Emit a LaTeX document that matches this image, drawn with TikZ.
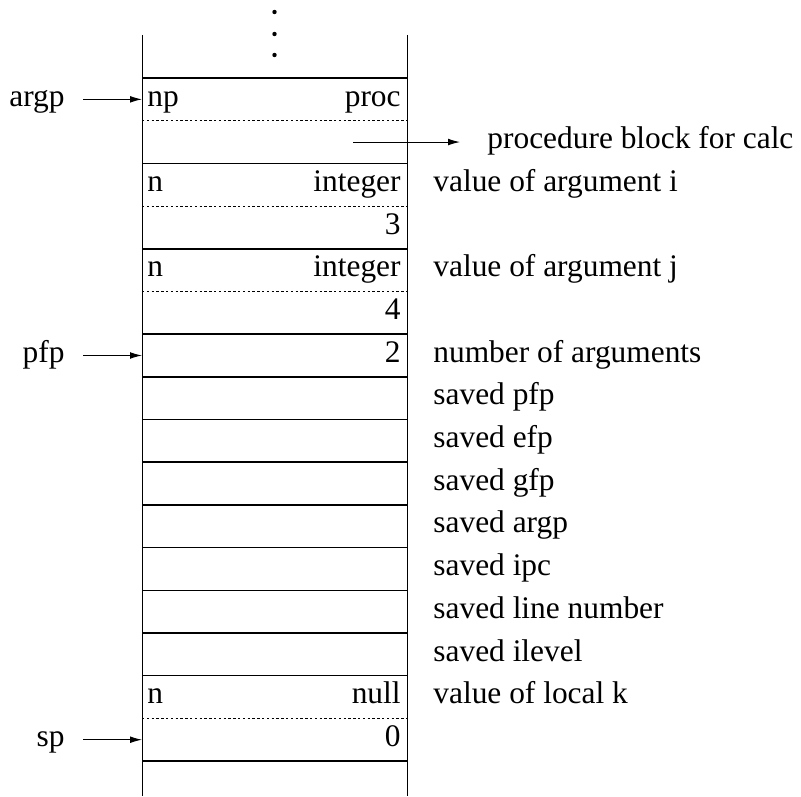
\documentclass[tikz,border=0pt]{standalone}
\usepackage{fontspec}
\setmainfont{Liberation Serif}
\usetikzlibrary{arrows.meta}
\tikzset{
  txt/.style={inner sep=0pt, font=\fontsize{15.7}{19}\selectfont},
  ptr/.style={-{Latex[length=6pt,width=3.4pt]}, line width=0.5pt},
  rowline/.style={line width=0.75pt},
  subline/.style={line width=0.5pt, dash pattern=on 1.2pt off 1.2pt},
}
\begin{document}
\begin{tikzpicture}[x=0.5pt, y=-0.5pt]
  \useasboundingbox (0,0) rectangle (801,796);
  % stack column
  \draw[line width=0.5pt] (142,35) -- (142,796) (407,35) -- (407,796);
  \foreach \y in {12,34,55} \fill (274.5,\y) circle[radius=1.1pt];
  \foreach \i in {0,2,4,6,7,8,9,10,11,12,13,14,16}
    \draw[rowline] (142,{78+42.69*\i}) -- (407,{78+42.69*\i});
  \foreach \i in {1,3,5,15}
    \draw[subline] (142,{78+42.69*\i}) -- (407,{78+42.69*\i});
  % cell contents
  \foreach \i/\t in {0/np,2/n,4/n,14/n}
    \node[txt, anchor=mid west] (tag\i) at (147,{101.5+42.69*\i}) {\t};
  \foreach \i/\t in {0/proc,2/integer,3/3,4/integer,5/4,6/2,14/null,15/0}
    \node[txt, anchor=mid east] (val\i) at (401,{101.5+42.69*\i}) {\t};
  % descriptions
  \foreach \i/\t in {2/value of argument i,4/value of argument j,
      6/number of arguments,7/saved pfp,8/saved efp,9/saved gfp,
      10/saved argp,11/saved ipc,12/saved line number,13/saved ilevel,
      14/value of local k}
    \node[txt, anchor=mid west] (note\i) at (433,{101.5+42.69*\i}) {\t};
  \coordinate (pblkfrom) at (353,{99.35+42.69});
  \node[txt, anchor=mid west] (pblk) at (487,{101.5+42.69}) {procedure block for calc};
  \draw[ptr, shorten >=13.5pt] (pblkfrom) -- (pblk.mid west |- pblkfrom);
  % pointers
  \foreach \i/\p in {0/argp,6/pfp,15/sp} {
    \node[txt, anchor=mid east] (\p) at (65,{101.5+42.69*\i}) {\p};
    \coordinate (\p in) at (142,{99.35+42.69*\i});
    \draw[ptr, shorten <=9pt] (\p.mid east |- \p in) -- (\p in);
  }
\end{tikzpicture}
\end{document}
